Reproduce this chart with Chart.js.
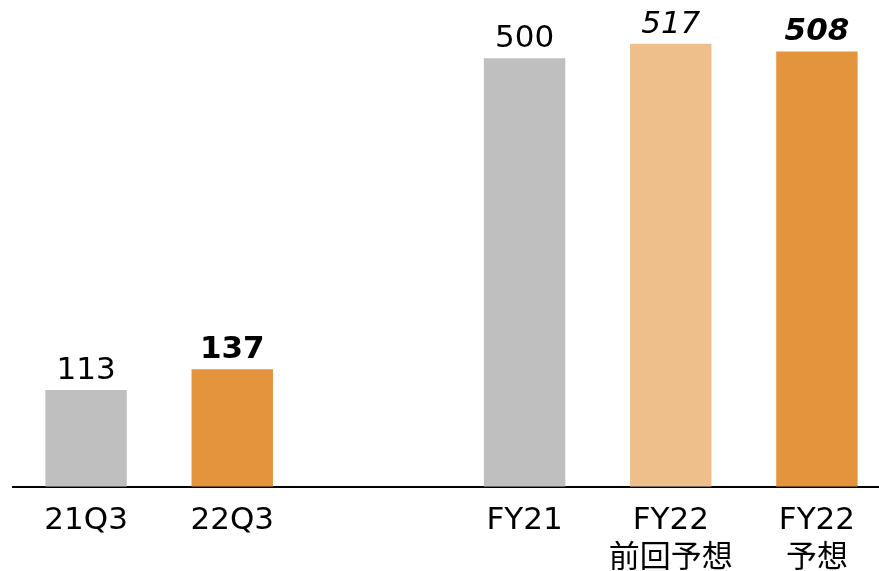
<!DOCTYPE html>
<html>
<head>
<meta charset="utf-8">
<script src="https://cdn.jsdelivr.net/npm/chart.js@4/dist/chart.umd.min.js"></script>
<style>
  html, body { margin: 0; padding: 0; background: #fff; overflow: hidden; }
  #wrap { width: 890px; height: 571px; }
</style>
</head>
<body>
<div id="wrap"><canvas id="chart" width="890" height="571"></canvas></div>
<script>
  // カテゴリと値（空欄は区切り用）
  var categories = [['21Q3'], ['22Q3'], [''], ['FY21'], ['FY22', '前回予想'], ['FY22', '予想']]
  var values = [113, 137, null, 500, 517, 508]
  var barColors = ['#BFBFBF', '#E3943C', '#FFFFFF', '#BFBFBF', '#EEBF8B', '#E3943C']
  // 数値ラベルの書体（太字・斜体）
  var labelStyles = [
    { style: 'normal', weight: 'normal' },
    { style: 'normal', weight: 'bold' },
    null,
    { style: 'normal', weight: 'normal' },
    { style: 'italic', weight: 'normal' },
    { style: 'italic', weight: 'bold' }
  ]

  var fontFamily = '"DejaVu Sans", Verdana, "Noto Sans CJK JP", sans-serif'

  var valueLabels = {
    id: 'valueLabels',
    afterDatasetsDraw: function (chart) {
      var ctx = chart.ctx
      var meta = chart.getDatasetMeta(0)
      ctx.save()
      ctx.fillStyle = '#000'
      ctx.textAlign = 'center'
      ctx.textBaseline = 'alphabetic'
      meta.data.forEach(function (bar, i) {
        if (values[i] == null) return
        var s = labelStyles[i]
        ctx.font = s.style + ' ' + s.weight + ' 31px ' + fontFamily
        ctx.fillText(String(values[i]), bar.x, bar.y - 11)
      })
      ctx.restore()
    }
  }

  new Chart(document.getElementById('chart'), {
    type: 'bar',
    data: {
      labels: categories,
      datasets: [{
        data: values,
        backgroundColor: barColors,
        barPercentage: 0.557,
        categoryPercentage: 1
      }]
    },
    options: {
      responsive: false,
      animation: false,
      layout: { padding: { left: 13, top: 0, right: 0, bottom: -22 } },
      plugins: {
        legend: { display: false },
        tooltip: { enabled: false }
      },
      scales: {
        x: {
          grid: { display: false, drawTicks: false },
          border: { display: true, color: '#000', width: 2 },
          ticks: {
            color: '#000',
            padding: 15,
            maxRotation: 0,
            autoSkip: false,
            font: { family: fontFamily, size: 31, lineHeight: 1.23 }
          }
        },
        y: {
          display: false,
          min: 0,
          max: 568
        }
      }
    },
    plugins: [valueLabels]
  })
</script>
</body>
</html>
